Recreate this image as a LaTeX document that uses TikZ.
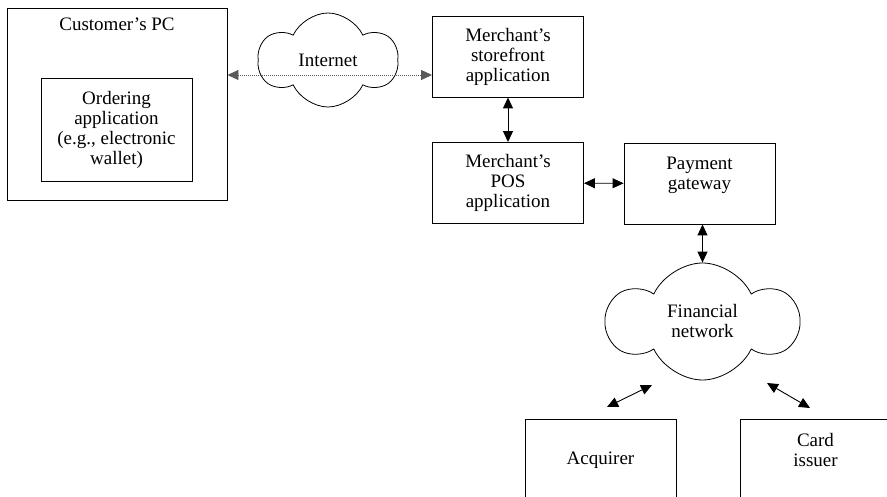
\documentclass[tikz,border=0pt]{standalone}
\usepackage{fontspec}
\setmainfont{Liberation Serif}
\usetikzlibrary{shapes.symbols,arrows.meta}

\tikzset{
  box/.style={draw,line width=0.9pt,align=center,minimum width=151pt,minimum height=81pt,inner sep=2pt},
  netcloud/.style={draw,cloud,cloud puffs=6,cloud puff arc=130,cloud ignores aspect,align=center,line width=0.8pt},
  link/.style={{Triangle[length=11pt,width=10pt]}-{Triangle[length=11pt,width=10pt]},line width=0.9pt},
}

\begin{document}
\begin{tikzpicture}[x=1pt,y=-1pt,every node/.style={font=\fontsize{19}{20}\selectfont}]
\clip (0,0) rectangle (887,497);
\node[draw,line width=0.9pt,minimum width=220pt,minimum height=192pt,
  label={[anchor=north,inner sep=0pt,yshift=-10pt]north:Customer's PC}] (pc) at (117,104) {};
\node[box,minimum height=103pt] (wallet) at (116.5,129.5) {Ordering\\application\\(e.g., electronic\\wallet)};
\node[netcloud,minimum width=139pt,minimum height=94pt] (inet) at (328,60) {Internet};
\node[box] (store) at (508,56.5) {Merchant's\\storefront\\application};
\node[box] (pos) at (508,183) {Merchant's\\POS\\application};
\node[box] (gate) at (699.5,183.5) {Payment\\gateway\\ };
\node[netcloud,minimum width=189pt,minimum height=117pt] (fin) at (702.5,321.5) {Financial\\network};
\node[box] (acq) at (600.5,460) {Acquirer};
\node[box] (iss) at (815.5,460) {Card\\issuer\\ };
\coordinate (acqend) at (607,407);
\coordinate (acqnet) at (652,385);
\coordinate (issnet) at (767,383);
\coordinate (issend) at (810,408);
% connectors
\draw[link,gray!70!black,dash pattern=on 1pt off 1pt] (pc.east |- 0,75) -- (store.west |- 0,75);
\draw[link] (store) -- (pos);
\draw[link] (pos) -- (gate);
\draw[link] (gate.south -| fin.north) -- (fin.north);
\draw[link] (acqend) -- (acqnet);
\draw[link] (issnet) -- (issend);
\end{tikzpicture}
\end{document}
